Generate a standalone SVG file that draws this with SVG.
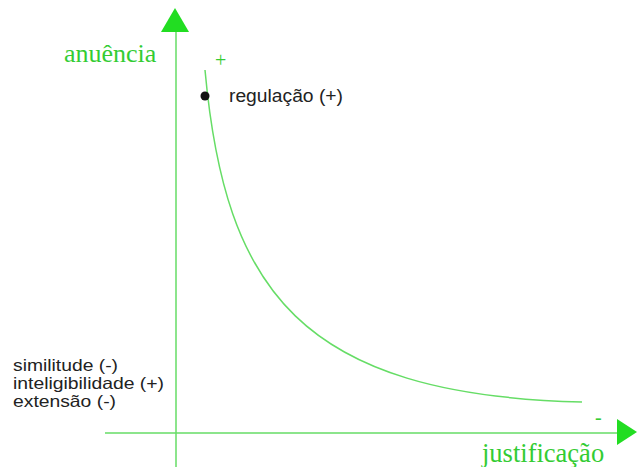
<svg xmlns="http://www.w3.org/2000/svg" width="638" height="467" viewBox="0 0 638 467">
<style>
.ax{stroke:#66dd66;stroke-width:1.5;fill:none}
.head{fill:#22dd22}
.gt{font-family:"Liberation Serif",serif;fill:#33cc33}
.bt{font-family:"Liberation Sans",Arial,sans-serif;fill:#222;font-size:17.5px}
.lt{font-size:16.5px}
</style>
<rect width="638" height="467" fill="#fff"/>
<g id="connectors">
<line class="ax" x1="176" y1="30" x2="176" y2="467"/>
<line class="ax" x1="105" y1="433" x2="618" y2="433"/>
<polygon class="head" points="175,8 161,32 189,32"/>
<polygon class="head" points="637,432 617,419 617,445"/>
<path class="ax" d="M205,70 C225,290 300,395 582,402"/>
</g>
<g id="labels">
<text class="gt" x="64" y="62" font-size="26">anuência</text>
<text class="gt" x="482" y="462" font-size="26.5">justificação</text>
<text class="gt" x="215" y="67" font-size="20">+</text>
<text class="gt" x="595" y="424" font-size="20">-</text>
</g>
<g id="regulacao">
<circle cx="205" cy="96" r="4.5" fill="#111"/>
<text class="bt" x="229" y="102" textLength="114" lengthAdjust="spacingAndGlyphs">regulação (+)</text>
</g>
<g id="left">
<text class="bt lt" x="13" y="371" textLength="105" lengthAdjust="spacingAndGlyphs">similitude (-)</text>
<text class="bt lt" x="13" y="389" textLength="151" lengthAdjust="spacingAndGlyphs">inteligibilidade (+)</text>
<text class="bt lt" x="13" y="407" textLength="103" lengthAdjust="spacingAndGlyphs">extensão (-)</text>
</g>
</svg>
